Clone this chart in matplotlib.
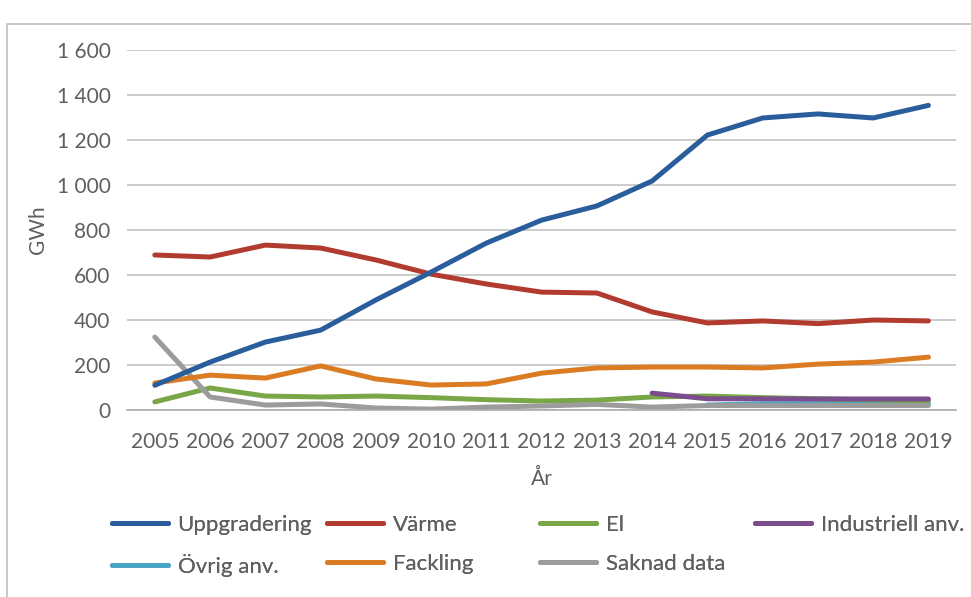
import matplotlib
matplotlib.use("Agg")
import matplotlib.pyplot as plt
from matplotlib.ticker import FuncFormatter
from matplotlib.patches import Rectangle
import numpy as np

plt.rcParams['font.family'] = ['Lato', 'DejaVu Sans']

years = [2005, 2006, 2007, 2008, 2009, 2010, 2011, 2012, 2013, 2014, 2015, 2016, 2017, 2018, 2019]
uppgradering = [110, 213, 302, 355, 489, 613, 742, 844, 907, 1018, 1222, 1298, 1316, 1298, 1354]
varme = [689, 680, 733, 720, 667, 604, 560, 524, 520, 436, 387, 396, 384, 400, 396]
el = [36, 98, 62, 58, 62, 55, 46, 40, 44, 58, 62, 55, 50, 45, 42]
industriell = [None] * 9 + [75, 50, 50, 49, 49, 49]
ovrig = [None] * 10 + [22, 28, 28, 28, 28]
fackling = [120, 155, 142, 196, 138, 111, 116, 164, 187, 191, 191, 187, 204, 213, 235]
saknad = [324, 58, 22, 27, 9, 4, 13, 18, 25, 13, 20, 20, 20, 20, 20]

names = ["Uppgradering", "Värme", "El", "Industriell anv.", "Övrig anv.", "Fackling", "Saknad data"]
colors = ['#2A5D9B', '#B23B2F', '#79A646', '#7B4D8C', '#4AA5C6', '#DB7B22', '#9C9C9C']
series = [uppgradering, varme, el, industriell, ovrig, fackling, saknad]

txt = '#5f5f5f'
fig = plt.figure(figsize=(9.71, 5.97), dpi=100)
ax = fig.add_axes([0.131, 0.3132, 0.8536, 0.603])

x = np.arange(len(years))
lines = {}
# draw order: last drawn on top
for i in [4, 2, 3, 6, 5, 1, 0]:
    y = np.array([np.nan if v is None else v for v in series[i]], dtype=float)
    l, = ax.plot(x, y, color=colors[i], lw=3.6, solid_capstyle='round', solid_joinstyle='round')
    lines[names[i]] = l

ax.set_xlim(-0.5, len(years) - 0.5)
ax.set_ylim(0, 1600)
ax.set_yticks(range(0, 1601, 200))
ax.yaxis.set_major_formatter(FuncFormatter(lambda v, p: f"{int(v):,}".replace(",", " ")))
ax.set_xticks(x)
ax.set_xticklabels([str(v) for v in years])
ax.grid(axis='y', color='#BFBFBF', lw=1.1)
ax.set_axisbelow(True)
for s in ['top', 'right', 'left']:
    ax.spines[s].set_visible(False)
ax.spines['bottom'].set_color('#A6A6A6')
ax.spines['bottom'].set_linewidth(1.1)
ax.tick_params(axis='y', length=0, labelsize=15, colors=txt, pad=12)
ax.tick_params(axis='x', length=0, labelsize=15, colors=txt, pad=16)
ax.set_ylabel("GWh", fontsize=15, color=txt, labelpad=6)
ax.set_xlabel("År", fontsize=15, color=txt, labelpad=12)

# legend columns, Excel style
cols = [["Uppgradering", "Övrig anv."], ["Värme", "Fackling"], ["El", "Saknad data"], ["Industriell anv."]]
xpos = [0.1153, 0.3368, 0.5561, 0.7775]
for c, xp in zip(cols, xpos):
    leg = fig.legend([lines[n] for n in c], c, loc='upper left', bbox_to_anchor=(xp, 0.137),
                     frameon=False, fontsize=16, handlelength=2.5, handletextpad=0.45,
                     labelspacing=0.85, borderpad=0, borderaxespad=0)
    for t in leg.get_texts():
        t.set_color(txt)
    fig.add_artist(leg)

fig.patches.append(Rectangle((0.007, -0.1), 1.2, 1.06, transform=fig.transFigure,
                             fill=False, edgecolor='#BFBFBF', lw=1.2))

fig.savefig("out.png", dpi=100)
